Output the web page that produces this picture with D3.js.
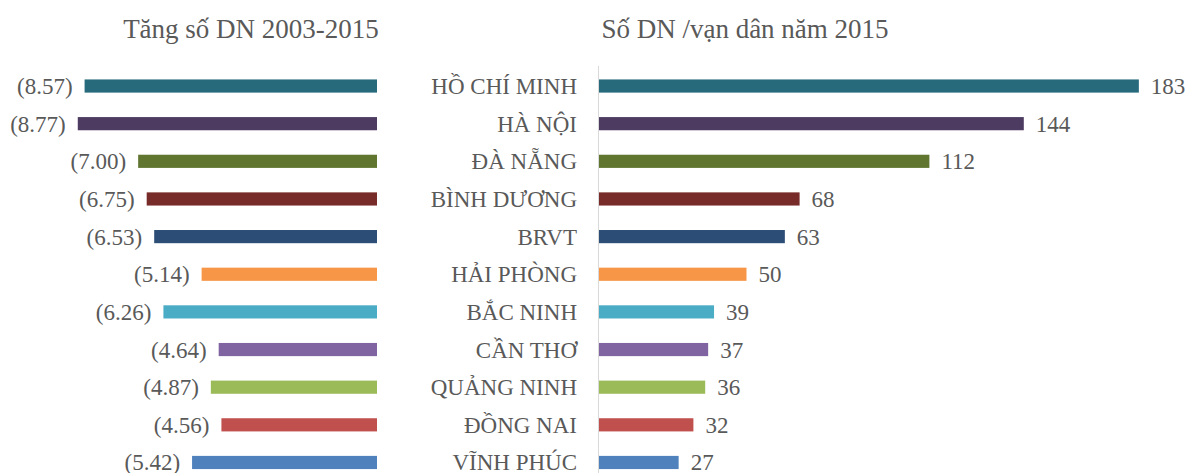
<!DOCTYPE html>
<html><head><meta charset="utf-8">
<script src="https://cdn.jsdelivr.net/npm/d3@7"></script>
<style>body{margin:0;background:#fff;}svg{display:block;}</style>
</head><body>
<svg id="c" width="1188" height="473"></svg>
<script>
const categories = ["HỒ CHÍ MINH","HÀ NỘI","ĐÀ NẴNG","BÌNH DƯƠNG","BRVT","HẢI PHÒNG","BẮC NINH","CẦN THƠ","QUẢNG NINH","ĐỒNG NAI","VĨNH PHÚC"];
const growth = [8.57, 8.77, 7.00, 6.75, 6.53, 5.14, 6.26, 4.64, 4.87, 4.56, 5.42];
const density = [183, 144, 112, 68, 63, 50, 39, 37, 36, 32, 27];
const colors = ["#276A7C","#4D3B62","#5F7530","#772C2A","#2C4D75","#F79646","#4BACC6","#8064A2","#9BBB59","#C0504D","#4F81BD"];
const titles = ["Tăng số DN 2003-2015", "Số DN /vạn dân năm 2015"];

const svg = d3.select("#c");
const font = "'Liberation Serif','Times New Roman',serif";
const txt = "#595959";

const y = d3.scaleBand().domain(categories).range([67.2, 481.3]).paddingInner(0.65).paddingOuter(0.325);
const bh = y.bandwidth();

// left chart
const xl = d3.scaleLinear().domain([0, 10]).range([377, 35.8]);
const gl = svg.append("g");
gl.selectAll("rect").data(categories).join("rect")
  .attr("x", (d,i) => xl(growth[i])).attr("width", (d,i) => xl(0) - xl(growth[i]))
  .attr("y", d => y(d)).attr("height", bh)
  .attr("fill", (d,i) => colors[i]);
gl.selectAll("text").data(categories).join("text")
  .attr("x", (d,i) => xl(growth[i]) - 12).attr("y", d => y(d) + bh/2 + 8)
  .attr("text-anchor", "end").attr("font-family", font).attr("font-size", 23).attr("fill", txt)
  .text((d,i) => "(" + d3.format(".2f")(growth[i]) + ")");

// right chart
const xr = d3.scaleLinear().domain([0, 200]).range([599, 1189]);
const gr = svg.append("g");
gr.append("line").attr("x1", 598.5).attr("x2", 598.5).attr("y1", 66).attr("y2", 473)
  .attr("stroke", "#d9d9d9").attr("stroke-width", 1);
gr.selectAll("rect").data(categories).join("rect")
  .attr("x", xr(0)).attr("width", (d,i) => xr(density[i]) - xr(0))
  .attr("y", d => y(d)).attr("height", bh)
  .attr("fill", (d,i) => colors[i]);
gr.selectAll("text.v").data(categories).join("text").attr("class","v")
  .attr("x", (d,i) => xr(density[i]) + 12).attr("y", d => y(d) + bh/2 + 8)
  .attr("font-family", font).attr("font-size", 23).attr("fill", txt)
  .text((d,i) => density[i]);
gr.selectAll("text.c").data(categories).join("text").attr("class","c")
  .attr("x", 577).attr("y", d => y(d) + bh/2 + 8)
  .attr("text-anchor", "end").attr("font-family", font).attr("font-size", 23).attr("fill", txt)
  .text(d => d);

// titles
svg.append("text").attr("x", 251).attr("y", 38).attr("text-anchor", "middle")
  .attr("font-family", font).attr("font-size", 27).attr("fill", txt).text(titles[0]);
svg.append("text").attr("x", 745).attr("y", 38).attr("text-anchor", "middle")
  .attr("font-family", font).attr("font-size", 27).attr("fill", txt).text(titles[1]);
</script>
</body></html>
